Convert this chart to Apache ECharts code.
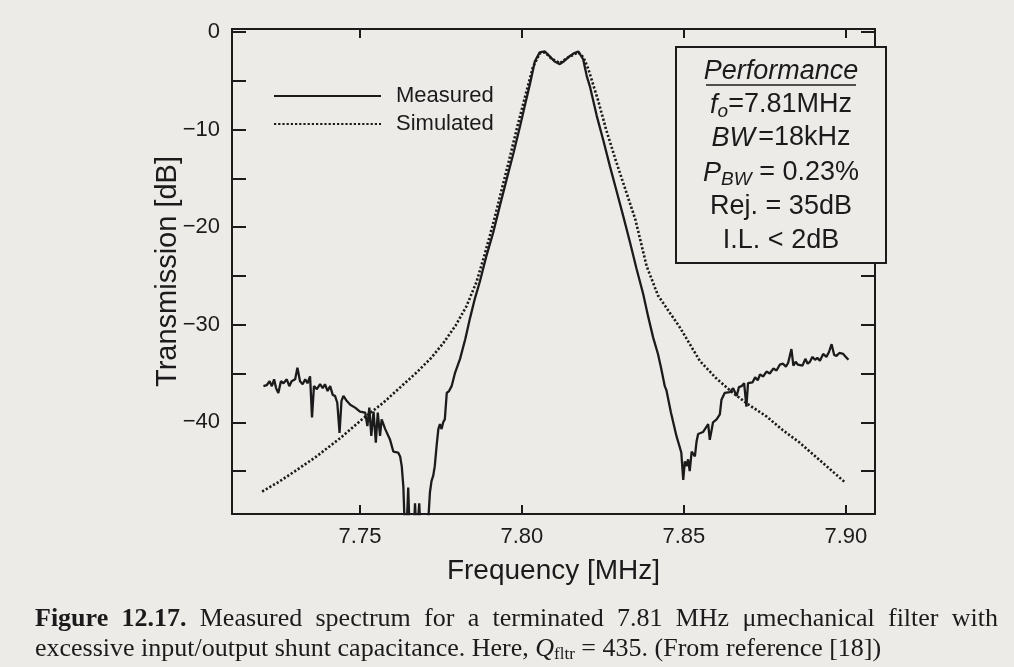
<!DOCTYPE html>
<html>
<head>
<meta charset="utf-8">
<title>Measured spectrum</title>
<script src="https://cdn.jsdelivr.net/npm/echarts@6/dist/echarts.min.js"></script>
<style>
html, body { margin: 0; padding: 0; background: #ecebe8; }
#chart { width: 1014px; height: 667px; }
</style>
</head>
<body>
<div id="chart"></div>
<script>
// measured transmission (MHz, dB) - values under the axis are clipped off
const measuredFreq = [
  7.7202, 7.7212, 7.7221, 7.7228, 7.7235, 7.7241, 7.7248, 7.7256, 7.7264, 7.7274,
  7.7282, 7.7289, 7.7300, 7.7307, 7.7315, 7.7323, 7.7331, 7.7338, 7.7346, 7.7352,
  7.7358, 7.7367, 7.7377, 7.7385, 7.7392, 7.7400, 7.7408, 7.7416, 7.7423, 7.7430,
  7.7437, 7.7443, 7.7449, 7.7459, 7.7470, 7.7485, 7.7500, 7.7516, 7.7523, 7.7529,
  7.7535, 7.7542, 7.7549, 7.7555, 7.7562, 7.7567, 7.7578, 7.7593, 7.7603, 7.7618,
  7.7624, 7.7629, 7.7634, 7.7638, 7.7643, 7.7649, 7.7654, 7.7665, 7.7670, 7.7675,
  7.7680, 7.7683, 7.7688, 7.7705, 7.7711, 7.7716, 7.7721, 7.7726, 7.7731, 7.7737,
  7.7742, 7.7747, 7.7752, 7.7757, 7.7762, 7.7768, 7.7775, 7.7783, 7.7793, 7.7809,
  7.7825, 7.7840, 7.7855, 7.7870, 7.7890, 7.7911, 7.7932, 7.7953, 7.7974, 7.7994,
  7.8010, 7.8025, 7.8040, 7.8055, 7.8071, 7.8086, 7.8100, 7.8117, 7.8130, 7.8143,
  7.8160, 7.8174, 7.8189, 7.8200, 7.8210, 7.8231, 7.8252, 7.8272, 7.8293, 7.8313,
  7.8334, 7.8354, 7.8374, 7.8390, 7.8405, 7.8420, 7.8430, 7.8441, 7.8446, 7.8460,
  7.8477, 7.8492, 7.8498, 7.8503, 7.8508, 7.8513, 7.8518, 7.8524, 7.8529, 7.8534,
  7.8539, 7.8544, 7.8549, 7.8559, 7.8565, 7.8575, 7.8580, 7.8590, 7.8601, 7.8611,
  7.8616, 7.8626, 7.8632, 7.8642, 7.8652, 7.8663, 7.8670, 7.8678, 7.8686, 7.8693,
  7.8698, 7.8704, 7.8712, 7.8720, 7.8728, 7.8735, 7.8745, 7.8755, 7.8765, 7.8776,
  7.8786, 7.8796, 7.8806, 7.8815, 7.8822, 7.8827, 7.8832, 7.8838, 7.8845, 7.8852,
  7.8858, 7.8866, 7.8875, 7.8882, 7.8889, 7.8897, 7.8905, 7.8912, 7.8920, 7.8930,
  7.8940, 7.8948, 7.8956, 7.8964, 7.8971, 7.8980, 7.8992, 7.9000, 7.9008
]
const measuredDb = [
  -36.3, -36.2, -35.8, -36.3, -35.6, -36.5, -37.0, -35.8, -36.0, -35.6,
  -36.3, -35.8, -35.6, -34.4, -35.8, -36.1, -35.6, -36.0, -35.3, -39.5,
  -36.3, -36.6, -36.1, -36.5, -36.1, -36.8, -36.3, -37.2, -37.3, -38.0,
  -41.1, -37.8, -37.3, -37.8, -38.2, -38.5, -38.9, -39.0, -40.4, -38.5,
  -41.4, -38.9, -42.1, -39.0, -41.4, -39.7, -40.7, -41.8, -43.0, -43.1,
  -43.5, -44.5, -46.6, -50.5, -52.0, -46.7, -52.0, -52.0, -48.3, -52.0,
  -52.0, -48.3, -52.0, -52.0, -50.0, -47.2, -46.0, -45.5, -44.5, -42.3,
  -40.7, -40.2, -40.7, -40.0, -39.7, -37.0, -36.8, -36.3, -35.0, -33.5,
  -31.5, -29.3, -27.3, -25.6, -23.0, -20.6, -17.8, -15.1, -12.4, -9.7,
  -7.4, -5.3, -3.0, -2.1, -2.0, -2.5, -3.0, -3.3, -3.0, -2.6,
  -2.2, -2.0, -2.8, -4.5, -5.6, -8.6, -11.2, -13.8, -16.4, -18.9,
  -21.6, -24.3, -26.8, -29.2, -31.3, -33.0, -34.5, -36.3, -36.7, -39.0,
  -41.4, -43.1, -45.9, -44.0, -44.5, -43.8, -45.0, -43.0, -42.8, -43.5,
  -42.0, -41.2, -41.4, -41.0, -40.8, -40.2, -41.8, -40.0, -39.7, -39.2,
  -37.7, -37.0, -36.8, -36.9, -36.5, -37.3, -36.4, -36.3, -36.0, -38.4,
  -36.0, -35.8, -35.9, -35.4, -35.7, -35.1, -35.3, -34.8, -35.0, -34.5,
  -34.7, -34.1, -34.0, -34.3, -33.9, -34.1, -32.5, -34.2, -33.8, -34.1,
  -33.9, -34.2, -33.5, -34.0, -33.8, -33.3, -33.6, -33.4, -33.7, -33.0,
  -33.3, -32.8, -32.0, -33.1, -33.2, -32.9, -33.0, -33.3, -33.6
]

// simulated response
const simulatedFreq = [
  7.7198, 7.7250, 7.7300, 7.7366, 7.7440, 7.7510, 7.7572, 7.7625, 7.7675, 7.7720,
  7.7757, 7.7795, 7.7829, 7.7860, 7.7885, 7.7910, 7.7935, 7.7960, 7.7985, 7.8010,
  7.8034, 7.8055, 7.8071, 7.8090, 7.8117, 7.8143, 7.8174, 7.8190, 7.8205, 7.8235,
  7.8260, 7.8290, 7.8320, 7.8350, 7.8385, 7.8420, 7.8488, 7.8549, 7.8600, 7.8652,
  7.8700, 7.8755, 7.8805, 7.8858, 7.8930, 7.8999
]
const simulatedDb = [
  -47.1, -46.1, -45.0, -43.5, -41.6, -39.6, -38.0, -36.4, -34.9, -33.4,
  -31.9, -30.1, -28.1, -25.6, -22.8, -19.8, -16.5, -13.2, -9.8, -6.6,
  -3.6, -2.2, -2.1, -2.7, -3.2, -2.6, -2.1, -2.6, -3.8, -7.0,
  -10.0, -13.2, -16.2, -19.2, -24.0, -27.0, -30.3, -33.7, -35.5, -37.0,
  -38.2, -39.4, -40.8, -42.1, -44.2, -46.2
]

const freqTicks = [7.75, 7.80, 7.85, 7.90]
const dbLabels = [0, -10, -20, -30, -40]
const dbTicks = [0, -5, -10, -15, -20, -25, -30, -35, -40, -45]

const perfLines = [
  '{it|Performance}',
  '{it|f}{sub|o}{n|=7.81MHz}',
  '{it|BW} {n|=18kHz}',
  '{it|P}{sub|BW}{n| = 0.23%}',
  '{n|Rej. = 35dB}',
  '{n|I.L. < 2dB}'
]
const perfY = [71, 105, 138, 173, 207, 241]

const captionBold = ['Figure', '12.17.']
const captionWords = ['Measured', 'spectrum', 'for', 'a', 'terminated', '7.81', 'MHz', '\u03bcmechanical', 'filter', 'with']

const SANS = 'Liberation Sans, Arial, sans-serif'
const SERIF = 'Liberation Serif, Times New Roman, serif'
const INK = '#1b1b1b'
const PAPER = '#ecebe8'
const CAP = 26

const chart = echarts.init(document.getElementById('chart'))

const pair = (xs, ys) => xs.map((x, i) => [x, ys[i]])

// justify the first caption line between x=35 and x=998
const measureCtx = document.createElement('canvas').getContext('2d')
function textWidth(s, bold) {
  measureCtx.font = (bold ? 'bold ' : '') + CAP + 'px ' + SERIF
  return measureCtx.measureText(s).width
}
let used = 0
captionBold.forEach(w => { used += textWidth(w, true) })
captionWords.forEach(w => { used += textWidth(w, false) })
const gapCount = captionBold.length + captionWords.length - 1
const gapW = Math.max(4, (963 - used) / gapCount)
const caption1 = captionBold.map(w => '{b|' + w + '}').concat(captionWords.map(w => '{r|' + w + '}')).join('{g| }')

function xAxisOf(pos) {
  return {
    type: 'value',
    position: pos,
    min: 7.7105,
    max: 7.909,
    axisLine: { show: true, onZero: false, lineStyle: { color: INK, width: 2 } },
    axisTick: { show: true, inside: true, length: 9, customValues: freqTicks, lineStyle: { color: INK, width: 2 } },
    axisLabel: {
      show: pos === 'bottom',
      customValues: freqTicks,
      formatter: v => v.toFixed(2),
      fontSize: 22, color: INK, fontFamily: SANS, margin: 12
    },
    splitLine: { show: false }
  }
}

function yAxisOf(pos) {
  return {
    type: 'value',
    position: pos,
    min: -49.4,
    max: 0.3,
    axisLine: { show: true, onZero: false, lineStyle: { color: INK, width: 2 } },
    axisTick: { show: true, inside: true, length: 14, customValues: dbTicks, lineStyle: { color: INK, width: 2 } },
    axisLabel: {
      show: pos === 'left',
      customValues: dbLabels,
      formatter: v => (v < 0 ? '\u2212' : '') + Math.abs(v),
      fontSize: 22, color: INK, fontFamily: SANS, margin: 12
    },
    splitLine: { show: false }
  }
}

const xBottom = xAxisOf('bottom')
xBottom.name = 'Frequency [MHz]'
xBottom.nameLocation = 'middle'
xBottom.nameGap = 43
xBottom.nameMoveOverlap = false
xBottom.nameTextStyle = { fontSize: 28, color: INK, fontFamily: SANS }

const yLeft = yAxisOf('left')
yLeft.name = 'Transmission [dB]'
yLeft.nameLocation = 'middle'
yLeft.nameGap = 50
yLeft.nameMoveOverlap = false
yLeft.nameTextStyle = { fontSize: 29, color: INK, fontFamily: SANS }

const perfText = perfLines.map((t, i) => ({
  type: 'text',
  x: 781,
  y: perfY[i],
  z: 102,
  style: {
    text: t,
    align: 'center',
    verticalAlign: 'middle',
    fill: INK,
    rich: {
      it: { fontSize: 27, fontStyle: 'italic', fontFamily: SANS, fill: INK, lineHeight: 30 },
      n: { fontSize: 27, fontFamily: SANS, fill: INK, lineHeight: 30 },
      sub: { fontSize: 19, fontStyle: 'italic', fontFamily: SANS, fill: INK, lineHeight: 18, padding: [14, 0, 0, 0] }
    }
  }
}))

const option = {
  backgroundColor: PAPER,
  animation: false,
  grid: { left: 232, right: 139, top: 29, bottom: 153, containLabel: false },
  legend: {
    orient: 'vertical',
    left: 268,
    top: 80,
    itemWidth: 107,
    itemHeight: 20,
    itemGap: 6,
    selectedMode: false,
    data: ['Measured', 'Simulated'],
    itemStyle: { opacity: 0 },
    textStyle: { fontSize: 22, color: INK, fontFamily: SANS, padding: [0, 0, 0, 10] }
  },
  xAxis: [xBottom, xAxisOf('top')],
  yAxis: [yLeft, yAxisOf('right')],
  series: [
    {
      name: 'Measured',
      type: 'line',
      data: pair(measuredFreq, measuredDb),
      symbol: 'none',
      clip: true,
      lineStyle: { color: INK, width: 2.3 },
      itemStyle: { color: INK }
    },
    {
      name: 'Simulated',
      type: 'line',
      data: pair(simulatedFreq, simulatedDb),
      symbol: 'none',
      clip: true,
      lineStyle: { color: INK, width: 2.6, type: [2.2, 2] },
      itemStyle: { color: INK }
    }
  ],
  graphic: [
    {
      type: 'rect',
      x: 676, y: 47, z: 100,
      shape: { width: 210, height: 216 },
      style: { fill: PAPER, stroke: INK, lineWidth: 2 }
    },
    {
      type: 'line',
      z: 101,
      shape: { x1: 706, y1: 85, x2: 856, y2: 85 },
      style: { stroke: INK, lineWidth: 1.6 }
    },
    ...perfText,
    {
      type: 'text',
      x: 35, y: 619, z: 100,
      style: {
        text: caption1,
        verticalAlign: 'middle',
        fill: INK,
        rich: {
          b: { fontWeight: 'bold', fontSize: CAP, fontFamily: SERIF, fill: INK },
          r: { fontSize: CAP, fontFamily: SERIF, fill: INK },
          g: { width: gapW, fontSize: CAP, fontFamily: SERIF }
        }
      }
    },
    {
      type: 'text',
      x: 35, y: 649, z: 100,
      style: {
        text: '{r|excessive input/output shunt capacitance. Here, }{q|Q}{s|fltr}{r| = 435. (From reference [18])}',
        verticalAlign: 'middle',
        fill: INK,
        rich: {
          r: { fontSize: CAP, fontFamily: SERIF, fill: INK, lineHeight: 28 },
          q: { fontStyle: 'italic', fontSize: CAP, fontFamily: SERIF, fill: INK, lineHeight: 28 },
          s: { fontSize: 17, fontFamily: SERIF, fill: INK, lineHeight: 16, padding: [12, 0, 0, 0] }
        }
      }
    }
  ]
}

chart.setOption(option)
</script>
</body>
</html>
